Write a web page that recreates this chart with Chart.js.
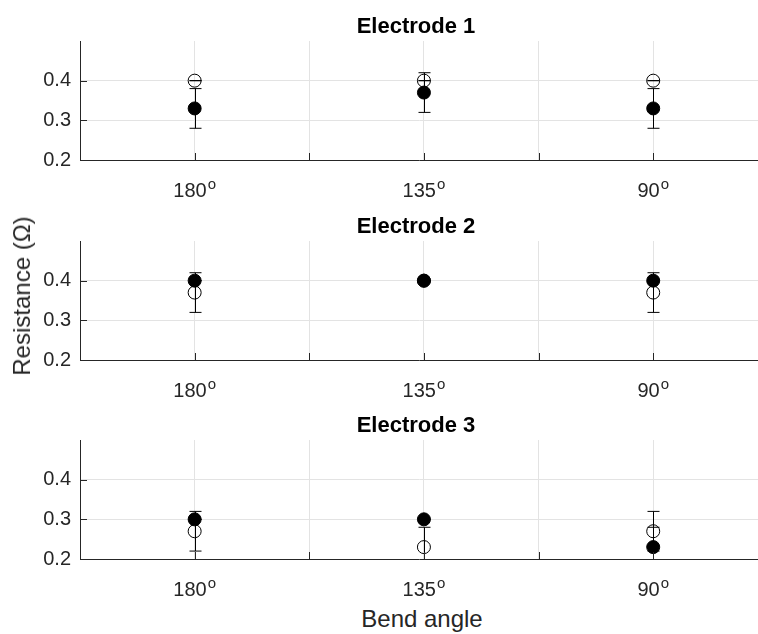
<!DOCTYPE html>
<html>
<head>
<meta charset="utf-8">
<script src="https://cdn.jsdelivr.net/npm/chart.js@4.4.1/dist/chart.umd.min.js"></script>
<style>
  body { margin: 0; background: #fff; }
  #wrap { position: relative; width: 758px; height: 634px; overflow: hidden; font-family: 'Liberation Sans', Arial, Helvetica, sans-serif; }
  .panel { position: absolute; left: 0; width: 758px; height: 200px; }
  #ylabel { position: absolute; left: 22px; top: 296px; transform: translate(-50%, -50%) rotate(-90deg); white-space: nowrap; font-size: 24px; color: #262626; }
  #xlabel { position: absolute; left: 422px; top: 607px; transform: translateX(-50%); white-space: nowrap; font-size: 24px; line-height: 24px; color: #262626; }
</style>
</head>
<body>
<div id="wrap">
  <div class="panel" style="top:0px"><canvas id="c1" width="758" height="200"></canvas></div>
  <div class="panel" style="top:199.5px"><canvas id="c2" width="758" height="200"></canvas></div>
  <div class="panel" style="top:399px"><canvas id="c3" width="758" height="200"></canvas></div>
  <div id="ylabel">Resistance (Ω)</div>
  <div id="xlabel">Bend angle</div>
</div>
<script>
// categories / ticks
const positions = [1, 2, 3];
const angleLabels = ['180', '135', '90'];
const yTicks = [0.2, 0.3, 0.4];
const xGrid = [1, 1.5, 2, 2.5, 3];
const titles = ['Electrode 1', 'Electrode 2', 'Electrode 3'];

// Electrode 1
const filled1 = [0.33, 0.37, 0.33];
const filledErr1 = [0.05, 0.05, 0.05];
const open1 = [0.40, 0.40, 0.40];
const openErr1 = [0, 0, 0];

// Electrode 2
const filled2 = [0.40, 0.40, 0.40];
const filledErr2 = [0, 0, 0];
const open2 = [0.37, 0.40, 0.37];
const openErr2 = [0.05, 0, 0.05];

// Electrode 3
const filled3 = [0.30, 0.30, 0.23];
const filledErr3 = [0, 0, 0.05];
const open3 = [0.27, 0.23, 0.27];
const openErr3 = [0.05, 0.05, 0.05];

const FONT = "'Liberation Sans', Arial, Helvetica, sans-serif";
const AXIS = '#262626';
const GRID = '#e3e3e3';

// error bars, inward ticks, superscript labels, title
const subplotDecor = {
    id: 'subplotDecor',
    beforeDatasetsDraw(chart) {
        const ctx = chart.ctx, a = chart.chartArea;
        const xs = chart.scales.x, ys = chart.scales.y;
        ctx.save();
        ctx.beginPath();
        ctx.rect(a.left, a.top, a.right - a.left, a.bottom - a.top);
        ctx.clip();
        ctx.strokeStyle = '#000';
        ctx.lineWidth = 1;
        chart.data.datasets.forEach(ds => {
            ds.data.forEach((p, i) => {
                const e = ds.errors[i];
                const px = Math.round(xs.getPixelForValue(p.x)) + 0.5;
                const lo = ys.getPixelForValue(p.y - e);
                const hi = ys.getPixelForValue(p.y + e);
                ctx.beginPath();
                ctx.moveTo(px, lo); ctx.lineTo(px, hi);
                ctx.moveTo(px - 6, lo); ctx.lineTo(px + 6, lo);
                ctx.moveTo(px - 6, hi); ctx.lineTo(px + 6, hi);
                ctx.stroke();
            });
        });
        ctx.restore();
    },
    afterDraw(chart) {
        const ctx = chart.ctx, a = chart.chartArea;
        const xs = chart.scales.x, ys = chart.scales.y;
        ctx.save();
        // inward tick marks
        ctx.strokeStyle = AXIS;
        ctx.lineWidth = 1;
        ctx.beginPath();
        xGrid.forEach(v => {
            const px = Math.round(xs.getPixelForValue(v)) + 0.5;
            ctx.moveTo(px, a.bottom); ctx.lineTo(px, a.bottom - 7);
        });
        yTicks.forEach(v => {
            const py = Math.round(ys.getPixelForValue(v)) + 0.5;
            ctx.moveTo(a.left, py); ctx.lineTo(a.left + 7, py);
        });
        ctx.stroke();

        // x tick labels with superscript o
        ctx.fillStyle = AXIS;
        ctx.textBaseline = 'alphabetic';
        ctx.textAlign = 'left';
        positions.forEach((v, i) => {
            const num = angleLabels[i];
            ctx.font = '20px ' + FONT;
            const wn = ctx.measureText(num).width;
            ctx.font = '15px ' + FONT;
            const ws = ctx.measureText('o').width;
            const start = xs.getPixelForValue(v) - (wn + ws + 1) / 2;
            ctx.font = '20px ' + FONT;
            ctx.fillText(num, start, a.bottom + 37);
            ctx.font = '15px ' + FONT;
            ctx.fillText('o', start + wn + 1, a.bottom + 29);
        });

        // title
        ctx.fillStyle = '#000';
        ctx.font = 'bold 22px ' + FONT;
        ctx.textAlign = 'center';
        ctx.fillText(chart.options.plugins.subplotDecor.title, 416, 33);
        ctx.restore();
    }
};

function makeChart(id, title, filled, filledErr, open, openErr) {
    const data = {
        datasets: [{
            data: positions.map((x, i) => ({ x: x, y: filled[i] })),
            errors: filledErr,
            pointStyle: 'circle',
            pointRadius: 6.5,
            backgroundColor: '#000',
            borderColor: '#000',
            borderWidth: 1,
            showLine: false
        }, {
            data: positions.map((x, i) => ({ x: x, y: open[i] })),
            errors: openErr,
            pointStyle: 'circle',
            pointRadius: 6.5,
            backgroundColor: 'rgba(0,0,0,0)',
            borderColor: '#000',
            borderWidth: 1,
            showLine: false
        }]
    };

    const config = {
        type: 'scatter',
        data,
        options: {
            responsive: false,
            animation: false,
            events: [],
            layout: { autoPadding: false, padding: { top: 41, left: 0, right: 0, bottom: 0 } },
            scales: {
                x: {
                    type: 'linear',
                    min: 0.5,
                    max: 3.457,
                    afterBuildTicks: s => { s.ticks = xGrid.map(v => ({ value: v })); },
                    afterFit: s => { s.height = 40; },
                    ticks: { display: false },
                    grid: { color: GRID, drawTicks: false },
                    border: { color: AXIS, width: 1 }
                },
                y: {
                    min: 0.2,
                    max: 0.5,
                    afterBuildTicks: s => { s.ticks = yTicks.map(v => ({ value: v })); },
                    afterFit: s => { s.width = 80; },
                    ticks: {
                        padding: 9,
                        color: AXIS,
                        font: { size: 20, family: FONT },
                        callback: v => v.toFixed(1)
                    },
                    grid: { color: GRID, drawTicks: false },
                    border: { color: AXIS, width: 1 }
                }
            },
            plugins: {
                legend: { display: false },
                tooltip: { enabled: false },
                subplotDecor: { title: title }
            }
        },
        plugins: [subplotDecor]
    };

    return new Chart(document.getElementById(id), config);
}

makeChart('c1', titles[0], filled1, filledErr1, open1, openErr1);
makeChart('c2', titles[1], filled2, filledErr2, open2, openErr2);
makeChart('c3', titles[2], filled3, filledErr3, open3, openErr3);
</script>
</body>
</html>
